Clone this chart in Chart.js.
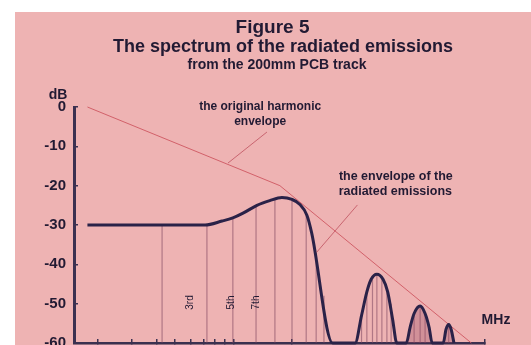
<!DOCTYPE html>
<html>
<head>
<meta charset="utf-8">
<script src="https://cdn.jsdelivr.net/npm/chart.js@4/dist/chart.umd.min.js"></script>
<style>
  html, body { margin: 0; padding: 0; background: #ffffff; }
  #wrap { position: absolute; left: 15px; top: 12px; width: 516px; height: 333px; background: #eeb3b3; }
  canvas { display: block; }
</style>
</head>
<body>
<div id="wrap"><canvas id="c" width="516" height="333"></canvas></div>
<script>
// Original trapezoidal harmonic envelope: -20 dB/decade, then -40 dB/decade
const harmonicEnvMHz = [0.88, 8.7, 85];
const harmonicEnvDb  = [0, -20, -60];

// Envelope of the radiated emissions: main lobe and three side lobes
const mainLobeMHz = [0.88, 3.57, 4.37, 4.97, 5.61, 6.62, 7.71, 8.91, 10.05, 11.0, 12.0, 12.7, 16.3];
const mainLobeDb  = [-30, -30, -29, -28.2, -27, -25, -23.8, -23, -23.5, -24.7, -27.5, -32, -60];
const sideLobe1MHz = [21.3, 23.0, 24.5, 25.8, 27.6, 29.7, 31.4, 33.3, 35.0];
const sideLobe1Db  = [-60, -53, -47, -43.8, -42.5, -43.8, -47, -54, -60];
const sideLobe2MHz = [39.2, 41.0, 43.0, 46.2, 49.0, 51.4, 53.3];
const sideLobe2Db  = [-60, -56, -52.5, -50.6, -52.5, -56, -60];
const sideLobe3MHz = [60.8, 62.9, 64.9, 66.8, 69.1];
const sideLobe3Db  = [-60, -56.5, -55.3, -56.5, -60];

// Odd harmonic spectral lines and the level each one reaches
const harmonicLineMHz = [2.14, 3.65, 4.97, 6.55, 8.2, 10.05, 11.9, 13.4, 14.7,
                         23.0, 24.5, 26.2, 27.6, 29.3, 31.1, 32.7, 43.0, 46.2, 49.0, 64.9];
const harmonicLineDb  = [-30, -30, -28.2, -25.3, -23.3, -23.5, -27, -37, -48,
                         -53, -47.5, -44, -42.5, -43.5, -46, -50, -52.5, -50.6, -52.5, -55.3];

// Axis ticks
const xTickMHz = [1, 1.5, 2, 2.5, 3, 3.5, 4, 4.5, 5, 10, 100];
const yTickStepDb = 5;
const yLabelStepDb = 10;

const pts = (xs, ys) => xs.map((v, i) => ({ x: v, y: ys[i] }));

const radiated = [].concat(
  pts(mainLobeMHz, mainLobeDb),
  pts(sideLobe1MHz, sideLobe1Db),
  pts(sideLobe2MHz, sideLobe2Db),
  pts(sideLobe3MHz, sideLobe3Db)
);

const lineSegments = [];
harmonicLineMHz.forEach((f, i) => {
  lineSegments.push({ x: f, y: -60 }, { x: f, y: harmonicLineDb[i] }, { x: f, y: null });
});

const INK = '#221a33';
const AXIS = '#3b3050';
const FONT = '"Liberation Sans", Arial, sans-serif';

const noPad = s => { s.paddingTop = 0; s.paddingBottom = 0; s.paddingLeft = 0; s.paddingRight = 0; };

const notes = {
  id: 'notes',
  afterDraw(chart) {
    const { ctx, scales: { x, y }, chartArea, width } = chart;
    ctx.save();
    ctx.fillStyle = INK;
    ctx.textAlign = 'center';
    ctx.textBaseline = 'middle';

    // headings
    ctx.font = 'bold 19px ' + FONT;
    ctx.fillText('Figure 5', width / 2 - 0.5, 16);
    ctx.font = 'bold 18px ' + FONT;
    ctx.fillText('The spectrum of the radiated emissions', width / 2 + 10, 35);
    ctx.font = 'bold 14px ' + FONT;
    ctx.fillText('from the 200mm PCB track', width / 2 + 4, 53);

    // axis units
    ctx.font = 'bold 14px ' + FONT;
    ctx.fillText('dB', chartArea.left - 16, chartArea.top - 12);
    ctx.fillText('MHz', chartArea.right + 11, y.getPixelForValue(-54.2));

    // leader lines
    ctx.strokeStyle = 'rgba(196, 92, 104, 0.9)';
    ctx.lineWidth = 1;
    const leader = (f1, d1, f2, d2) => {
      ctx.beginPath();
      ctx.moveTo(x.getPixelForValue(f1), y.getPixelForValue(d1));
      ctx.lineTo(x.getPixelForValue(f2), y.getPixelForValue(d2));
      ctx.stroke();
    };
    leader(4.69, -14.25, 7.46, -6.36);
    leader(21.9, -24.9, 13.5, -36.9);

    // captions
    ctx.font = 'bold 12px ' + FONT;
    ctx.fillText('the original harmonic', x.getPixelForValue(6.88), y.getPixelForValue(0));
    ctx.fillText('envelope', x.getPixelForValue(6.88), y.getPixelForValue(-3.8));
    ctx.font = 'bold 12.5px ' + FONT;
    ctx.fillText('the envelope of the', x.getPixelForValue(34.6), y.getPixelForValue(-17.8));
    ctx.fillText('radiated emissions', x.getPixelForValue(34.4), y.getPixelForValue(-21.4));

    // harmonic order labels, written upwards
    ctx.font = '10px ' + FONT;
    [['3rd', 2.99], ['5th', 4.87], ['7th', 6.55]].forEach(([t, f]) => {
      ctx.save();
      ctx.translate(x.getPixelForValue(f), y.getPixelForValue(-49.7));
      ctx.rotate(-Math.PI / 2);
      ctx.fillText(t, 0, 0);
      ctx.restore();
    });
    ctx.restore();
  }
};

new Chart(document.getElementById('c'), {
  type: 'line',
  data: {
    datasets: [
      {
        label: 'the envelope of the radiated emissions',
        data: radiated,
        borderColor: '#2a2248',
        borderWidth: 3,
        pointRadius: 0,
        cubicInterpolationMode: 'monotone',
        fill: false,
        clip: false,
        order: 0
      },
      {
        label: 'the original harmonic envelope',
        data: pts(harmonicEnvMHz, harmonicEnvDb),
        borderColor: 'rgba(206, 88, 98, 0.9)',
        borderWidth: 1,
        pointRadius: 0,
        tension: 0,
        fill: false,
        clip: false,
        order: 1
      },
      {
        label: 'side lobe 2',
        data: pts(sideLobe2MHz, sideLobe2Db),
        borderWidth: 0,
        borderColor: 'rgba(0,0,0,0)',
        backgroundColor: 'rgba(150, 70, 95, 0.32)',
        pointRadius: 0,
        cubicInterpolationMode: 'monotone',
        fill: 'start',
        order: 2
      },
      {
        label: 'side lobe 3',
        data: pts(sideLobe3MHz, sideLobe3Db),
        borderWidth: 0,
        borderColor: 'rgba(0,0,0,0)',
        backgroundColor: 'rgba(150, 70, 95, 0.32)',
        pointRadius: 0,
        cubicInterpolationMode: 'monotone',
        fill: 'start',
        order: 2
      },
      {
        label: 'harmonics',
        data: lineSegments,
        borderColor: 'rgba(125, 70, 95, 0.55)',
        borderWidth: 1.2,
        pointRadius: 0,
        spanGaps: false,
        fill: false,
        order: 3
      }
    ]
  },
  options: {
    responsive: false,
    animation: false,
    events: [],
    layout: { padding: { top: 95, right: 46, left: 0, bottom: 0 } },
    plugins: { legend: { display: false }, tooltip: { enabled: false }, title: { display: false } },
    scales: {
      x: {
        type: 'logarithmic',
        min: 0.75,
        max: 100,
        afterBuildTicks: s => { s.ticks = xTickMHz.map(v => ({ value: v })); },
        afterFit: s => { s.height = 2; noPad(s); },
        ticks: { display: false },
        grid: { drawOnChartArea: false, drawTicks: true, tickLength: -4, color: AXIS, lineWidth: 1.5 },
        border: { display: true, color: AXIS, width: 2.5 }
      },
      y: {
        min: -60,
        max: 0,
        afterFit: s => { s.width = 59; noPad(s); },
        ticks: {
          stepSize: yTickStepDb,
          padding: 12,
          color: INK,
          font: { family: FONT, size: 15, weight: 'bold' },
          callback: v => (v % yLabelStepDb === 0 ? String(v) : '')
        },
        grid: { drawOnChartArea: false, drawTicks: true, tickLength: -4, color: AXIS, lineWidth: 1.5 },
        border: { display: true, color: AXIS, width: 3 }
      }
    }
  },
  plugins: [notes]
});
</script>
</body>
</html>
